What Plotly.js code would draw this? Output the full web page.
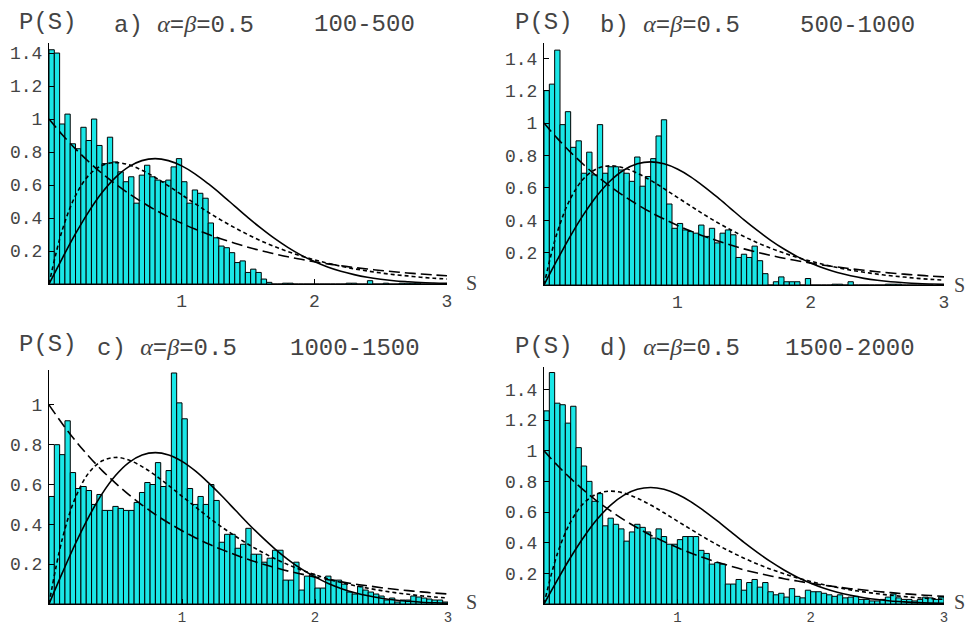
<!DOCTYPE html>
<html>
<head>
<meta charset="utf-8">
<script src="https://cdn.plot.ly/plotly-3.0.1.min.js"></script>
<style>html,body{margin:0;padding:0;background:#fff;}#chart{width:968px;height:626px;}</style>
</head>
<body>
<div id="chart"></div>
<script>
// ---------------- DATA ----------------
const binWidth = 0.04; // histogram bin width in S
const panelLabels = ["a)", "b)", "c)", "d)"];
const paramText = "α=β=0.5";
const energyRanges = ["100-500", "500-1000", "1000-1500", "1500-2000"];

const histA = [1.42,1.40,0.97,1.03,0.85,0.82,0.95,0.87,1.00,0.84,0.73,0.89,0.74,0.68,0.62,0.65,0.49,0.66,0.72,0.65,0.63,0.62,0.63,0.71,0.76,
  0.62,0.49,0.57,0.55,0.52,0.37,0.28,0.23,0.22,0.19,0.13,0.14,0.07,0.09,0.07,0.03,0.01,
  0,0,0.005,0.005,0,0,0,0,0,0,0,0,0,0,0.005,0.005,0,0,0.02,0,0,0.005,0,0,0.005,0.005,0.005,0.005,0,0,0,0,0];
const histB = [1.20,1.24,1.45,0.99,1.07,0.85,0.89,0.69,0.82,0.68,0.99,0.69,0.73,0.73,0.71,0.69,0.64,0.79,0.61,0.67,0.78,0.92,1.02,0.50,
  0.35,0.38,0.34,0.33,0.32,0.37,0.30,0.35,0.26,0.32,0.34,0.31,0.17,0.19,0.17,0.24,0.15,0.07,
  0,0.02,0.05,0.02,0.02,0.02,0,0.04,0,0,0,0,0.005,0.005,0,0.02,0,0,0,0,0,0,0.005,0.005,0.005,0,0,0,0,0,0];
const histC = [0.54,0.80,0.75,0.92,0.66,0.58,0.59,0.57,0.50,0.55,0.47,0.47,0.49,0.48,0.47,0.47,0.51,0.56,0.61,0.60,0.71,0.59,0.67,
  1.16,1.01,0.93,0.58,0.50,0.54,0.50,0.60,0.52,0.31,0.35,0.35,0.28,0.30,
  0.38,0.25,0.25,0.21,0.23,0.27,0.27,0.12,0.12,0.21,0.07,0.14,0.15,0.08,0.08,0.14,0.12,0.12,0.10,0.06,0.05,0.09,0.07,0.06,0.05,0.04,0.02,0.03,0.01,0.02,0.02,0.04,0.035,0.03,0.025,0.02,0.02,0.01];
const histD = [1.26,1.51,1.31,1.30,1.18,1.29,1.02,0.90,0.80,0.67,0.72,0.51,0.56,0.52,0.49,0.41,0.47,0.52,0.50,0.47,0.43,0.49,0.44,0.39,0.39,0.42,0.44,0.44,0.44,0.35,0.33,0.26,0.27,0.26,0.13,
  0.13,0.16,0.09,0.14,0.16,0.11,0.14,0.08,0.06,0.07,0.045,0.10,0.05,0.04,0.09,0.08,0.08,0.07,0.06,0.05,0.06,0.04,0.045,0.05,0.03,0.03,0.02,0.02,0.03,0.045,0.065,0.04,0.03,0.03,0.02,0.03,0.045,0.04,0.03,0.045];

// reference curves at S = 0, 0.1, ..., 3.0
const curveS = [0,0.1,0.2,0.3,0.4,0.5,0.6,0.7,0.8,0.9,1.0,1.1,1.2,1.3,1.4,1.5,1.6,1.7,1.8,1.9,2.0,2.1,2.2,2.3,2.4,2.5,2.6,2.7,2.8,2.9,3.0];
const poissonP = [1,0.905,0.819,0.741,0.670,0.607,0.549,0.497,0.449,0.407,0.368,0.333,0.301,0.273,0.247,0.223,0.202,0.183,0.165,0.150,0.135,0.122,0.111,0.100,0.091,0.082,0.074,0.067,0.061,0.055,0.050];
const semiPoissonP = [0,0.327,0.536,0.659,0.719,0.736,0.723,0.690,0.646,0.595,0.541,0.488,0.435,0.386,0.341,0.299,0.261,0.227,0.197,0.170,0.147,0.126,0.108,0.092,0.079,0.067,0.057,0.049,0.041,0.035,0.030];
const wignerP = [0,0.156,0.305,0.439,0.554,0.645,0.710,0.748,0.760,0.748,0.716,0.668,0.608,0.542,0.472,0.402,0.337,0.276,0.222,0.175,0.136,0.103,0.077,0.057,0.041,0.029,0.020,0.014,0.009,0.006,0.004];

const xTickVals = [1,2,3];
const xTickText = ["1","2","3"];
const yTickVals = [0.2,0.4,0.6,0.8,1.0,1.2,1.4];
const yTickText = ["0.2","0.4","0.6","0.8","1","1.2","1.4"];

// ---------------- BUILD ----------------
const W = 968, H = 626;
const hists = [histA, histB, histC, histD];
const binCenters = histA.map((_, i) => (i + 0.5) * binWidth);

const traces = [];
hists.forEach((h, p) => {
  const xa = p === 0 ? 'x' : 'x' + (p + 1);
  const ya = p === 0 ? 'y' : 'y' + (p + 1);
  traces.push({type:'bar', x: binCenters, y: h, width: binWidth, xaxis: xa, yaxis: ya,
    marker:{color:'#1ae6e6', line:{color:'#000', width:1}}, hoverinfo:'skip'});
  traces.push({type:'scatter', mode:'lines', x: curveS, y: poissonP, xaxis: xa, yaxis: ya,
    line:{color:'#000', width:1.6, dash:'11px,5px', shape:'spline'}, hoverinfo:'skip'});
  traces.push({type:'scatter', mode:'lines', x: curveS, y: semiPoissonP, xaxis: xa, yaxis: ya,
    line:{color:'#000', width:1.6, dash:'4px,3px', shape:'spline'}, hoverinfo:'skip'});
  traces.push({type:'scatter', mode:'lines', x: curveS, y: wignerP, xaxis: xa, yaxis: ya,
    line:{color:'#000', width:1.6, shape:'spline'}, hoverinfo:'skip'});
});

// panel geometry in pixels: [left(S=0), right(S=3), top, bottom(P=0)]
const geo = [[49,447,43,284],[544,944,43,285],[49,448,370,604],[544,944,366.7,604]];
// P value at top of each y axis
const yTop = [1.461, 1.494, 1.175, 1.548];

const layout = {width:W, height:H, margin:{l:0,r:0,t:0,b:0}, paper_bgcolor:'#fff', plot_bgcolor:'rgba(0,0,0,0)',
  showlegend:false, bargap:0, annotations:[]};

const textColor = '#444';
const mono = 'Liberation Mono, Courier New, monospace';
geo.forEach((g, p) => {
  const sx = p === 0 ? '' : String(p + 1);
  const bottomRow = p >= 2;
  layout['xaxis' + sx] = {domain:[g[0]/W, g[1]/W], range:[0,3], anchor:'y' + sx,
    showline:true, linecolor:'#000', linewidth:1, showgrid:false, zeroline:false,
    tickmode:'array', tickvals:xTickVals, ticktext:xTickText, ticks:'inside', ticklen:5, tickcolor:'#000',
    tickfont:{family:mono, size: bottomRow ? 14 : 18, color:textColor}, fixedrange:true};
  layout['yaxis' + sx] = {domain:[1 - g[3]/H, 1 - g[2]/H], range:[0, yTop[p]], anchor:'x' + sx,
    showline:true, linecolor:'#000', linewidth:1, showgrid:false, zeroline:false,
    tickmode:'array', tickvals:yTickVals, ticktext:yTickText, ticks:'inside', ticklen:5, tickcolor:'#000',
    tickfont:{family:mono, size:18, color:textColor}, ticklabelstandoff:2, fixedrange:true};
});

// text positions (pixels)
const pPos = [[17,22],[513,22],[17,344],[513,346]];
const tPos = [[112,25],[598,25],[95,348],[598,348]];
const rPos = [[312,24],[798,25],[288,348],[783,348]];
const sPos = [[464,283],[952,285],[464,602],[952,602]];
const greek = s => s.replace(/α/g, '<span style="font-family:Liberation Serif"><i>α</i></span>').replace(/β/g, '<span style="font-family:Liberation Serif"><i>β</i></span>');
for (let p = 0; p < 4; p++) {
  layout.annotations.push({xref:'paper', yref:'paper', x:pPos[p][0]/W, y:1 - pPos[p][1]/H, xanchor:'left', yanchor:'middle',
    text:'P(S)', showarrow:false, font:{family:mono, size:24, color:textColor}});
  layout.annotations.push({xref:'paper', yref:'paper', x:tPos[p][0]/W, y:1 - tPos[p][1]/H, xanchor:'left', yanchor:'middle',
    text: panelLabels[p] + ' ' + greek(paramText), showarrow:false, font:{family:mono, size:24, color:textColor}});
  layout.annotations.push({xref:'paper', yref:'paper', x:rPos[p][0]/W, y:1 - rPos[p][1]/H, xanchor:'left', yanchor:'middle',
    text: energyRanges[p], showarrow:false, font:{family:mono, size:24, color:textColor}});
  layout.annotations.push({xref:'paper', yref:'paper', x:sPos[p][0]/W, y:1 - sPos[p][1]/H, xanchor:'left', yanchor:'middle',
    text:'S', showarrow:false, font:{family:'Liberation Serif, Times New Roman, serif', size:20, color:textColor}});
}

Plotly.newPlot('chart', traces, layout, {staticPlot:true, displayModeBar:false});
</script>
</body>
</html>
